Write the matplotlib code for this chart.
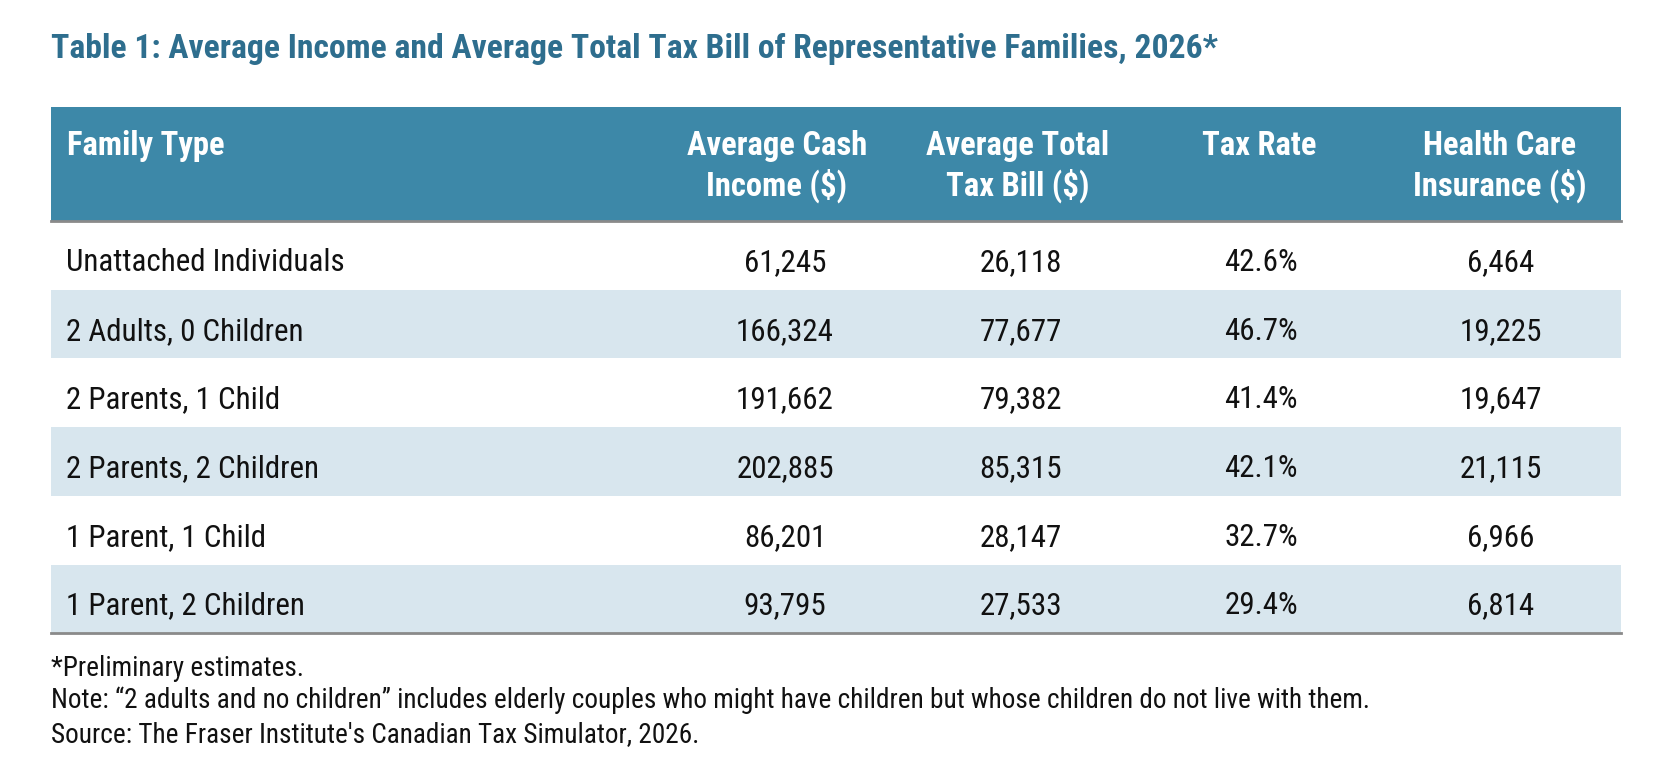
import matplotlib
matplotlib.use('Agg')
import matplotlib.pyplot as plt
from matplotlib import font_manager
from matplotlib.patches import Rectangle

# data -----------------------------------
title = 'Table 1: Average Income and Average Total Tax Bill of Representative Families, 2026*'
columns = ['Family Type', 'Average Cash\nIncome ($)', 'Average Total\nTax Bill ($)',
           'Tax Rate', 'Health Care\nInsurance ($)']
family_types = ['Unattached Individuals', '2 Adults, 0 Children', '2 Parents, 1 Child',
                '2 Parents, 2 Children', '1 Parent, 1 Child', '1 Parent, 2 Children']
cash_income = [61245, 166324, 191662, 202885, 86201, 93795]
total_tax = [26118, 77677, 79382, 85315, 28147, 27533]
tax_rate = [42.6, 46.7, 41.4, 42.1, 32.7, 29.4]
health_ins = [6464, 19225, 19647, 21115, 6966, 6814]
notes = ['*Preliminary estimates.',
         'Note: \u201c2 adults and no children\u201d includes elderly couples who might have children but whose children do not live with them.',
         "Source: The Fraser Institute's Canadian Tax Simulator, 2026."]

# font -----------------------------------
def pick_font(names):
    for n in names:
        try:
            font_manager.findfont(n, fallback_to_default=False)
            return n
        except Exception:
            pass
    return 'DejaVu Sans'

FONT = pick_font(['Roboto Condensed', 'Liberation Sans Narrow', 'Roboto'])
plt.rcParams['font.family'] = [FONT, 'DejaVu Sans']

# colours --------------------------------
TITLE_C = '#2e6e8e'
HEAD_C = '#3d88a8'
STRIPE_C = '#d8e6ee'
LINE_C = '#8a8a8a'
TEXT_C = '#111111'

# layout ---------------------------------
W, H = 1676, 762
left, right = 51, 1621
head_top, head_bot = 107, 221
row_h = 68.7
head_x = [67, 777, 1018, 1259, 1500]
col_x = [66, 785, 1021, 1261, 1501]
head_lines_y = [155, 196]   # baselines

fig = plt.figure(figsize=(W / 100, H / 100), dpi=100)
ax = fig.add_axes([0, 0, 1, 1])
ax.set_xlim(0, W)
ax.set_ylim(H, 0)
ax.axis('off')

ax.text(left, 58, title, fontsize=24.2, fontweight='bold', color=TITLE_C, va='baseline', ha='left')

# header
ax.add_patch(Rectangle((left, head_top), right - left, head_bot - head_top, color=HEAD_C, lw=0))
for j, c in enumerate(columns):
    for k, line in enumerate(c.split('\n')):
        ax.text(head_x[j], head_lines_y[k], line, fontsize=23.5, fontweight='bold', color='white',
                ha='left' if j == 0 else 'center', va='baseline')

# rows
for i, fam in enumerate(family_types):
    y0 = head_bot + i * row_h
    if i % 2 == 1:
        ax.add_patch(Rectangle((left, y0), right - left, row_h, color=STRIPE_C, lw=0))
    vals = [fam, f'{cash_income[i]:,}', f'{total_tax[i]:,}', f'{tax_rate[i]:.1f}%', f'{health_ins[i]:,}']
    for j, v in enumerate(vals):
        ax.text(col_x[j], y0 + 50, v, fontsize=22.3, color=TEXT_C,
                ha='left' if j == 0 else 'center', va='baseline')

bottom = head_bot + len(family_types) * row_h
ax.plot([left, right], [head_bot, head_bot], color=LINE_C, lw=2)
ax.plot([left, right], [bottom, bottom], color=LINE_C, lw=2)

for t, y in zip(notes, [676, 708, 742]):
    ax.text(left, y, t, fontsize=19.6, color=TEXT_C, ha='left', va='baseline')

fig.savefig('out.png', dpi=100)
